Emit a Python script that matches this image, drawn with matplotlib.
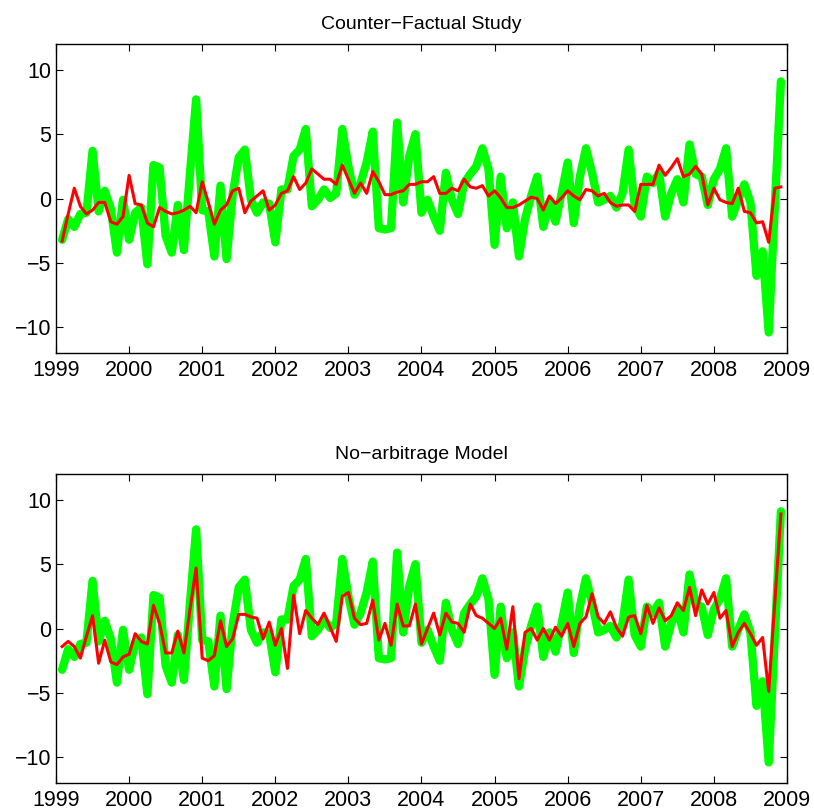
import numpy as np
import matplotlib
matplotlib.use("Agg")
from matplotlib import pyplot as plt

# monthly observations, Feb 1999 .. Dec 2008
months = np.arange(1, 120)
dates = 1999 + months / 12.0

actual = [
    -3.2, -1.6, -2.2, -1.2, -1.1, 3.7, -1.0, 0.6, -0.8, -4.2,
    -0.1, -3.2, -1.1, -0.7, -5.1, 2.6, 2.4, -2.9, -4.2, -0.5,
    -4.0, 2.0, 7.7, -0.9, -1.0, -4.5, 1.0, -4.7, 0.3, 3.2,
    3.8, -0.1, -1.1, -0.3, -0.4, -3.4, 0.7, 0.7, 3.3, 3.8,
    5.4, -0.6, -0.1, 0.7, 0.05, 0.4, 5.4, 2.5, 0.3, 1.2,
    2.8, 5.2, -2.3, -2.4, -2.3, 5.9, -0.3, 3.3, 5.0, -1.1,
    -0.1, -1.4, -2.5, 2.0, -0.1, -1.2, 1.2, 1.9, 2.5, 3.9,
    2.3, -3.6, 1.7, -2.3, -0.3, -4.5, -1.6, 0.2, 1.7, -2.2,
    -0.3, -1.8, 0.4, 2.8, -1.9, 1.7, 3.9, 2.0, -0.3, -0.1,
    0.2, -0.7, 0.4, 3.8, -0.5, -1.4, 1.7, 1.2, 2.0, -1.4,
    0.4, 1.5, -0.3, 4.2, 1.9, 1.7, -0.5, 1.5, 2.3, 3.9,
    -1.4, -0.1, 1.1, -0.3, -6.0, -4.1, -10.4, -0.6, 9.1,
]

counter_factual = [
    -3.3, -1.2, 0.8, -0.6, -1.2, -0.9, -0.3, -0.3, -1.8, -2.0,
    -1.4, 1.8, -0.4, -0.5, -1.9, -2.2, -0.7, -1.0, -1.2, -1.1,
    -0.9, -0.6, -1.1, 1.3, -0.3, -2.0, -0.9, -0.5, 0.6, 0.8,
    -1.1, -0.2, 0.2, 0.6, -0.9, -0.5, 0.4, 0.6, 1.7, 0.7,
    1.2, 2.3, 1.9, 1.5, 1.5, 1.1, 2.6, 1.5, 0.4, 1.2,
    0.4, 2.1, 1.3, 0.3, 0.3, 0.5, 0.6, 1.1, 1.1, 1.3,
    1.3, 1.7, 0.4, 0.4, 0.8, 0.6, 1.5, 0.9, 0.8, 1.0,
    0.2, 0.6, 0.05, -0.7, -0.7, -0.5, -0.2, 0.1, 0.0, -0.9,
    0.2, -0.4, 0.05, 0.6, 0.2, -0.1, 0.7, 0.6, 0.2, 0.4,
    -0.3, -0.6, -0.5, -0.5, -1.0, 1.1, 1.1, 1.1, 2.6, 1.8,
    2.4, 3.1, 1.7, 1.9, 2.5, 1.9, -0.5, 0.8, -0.1, -0.3,
    -0.4, 0.8, -1.0, -1.1, -1.9, -1.8, -3.4, 0.8, 0.9,
]

no_arbitrage = [
    -1.4, -1.0, -1.4, -2.3, -0.6, 1.0, -2.7, -0.9, -2.6, -2.8,
    -2.2, -2.0, -0.4, -1.0, -1.2, 1.8, 0.4, -1.9, -1.9, -0.2,
    -1.9, 1.5, 4.7, -2.3, -2.5, -2.1, 0.6, -1.4, -0.8, 1.1,
    1.1, 0.9, 0.8, -0.8, 0.5, -1.3, 0.0, -3.1, 2.6, -0.4,
    1.4, 0.8, 0.3, 1.2, 0.1, -1.0, 2.5, 2.8, 0.8, 0.3,
    0.4, 2.2, -0.9, 0.4, -1.3, 1.9, 0.2, 0.2, 1.9, -1.2,
    0.0, 1.2, -0.5, 1.2, 0.5, 0.4, -0.3, 1.9, 1.0, 0.8,
    0.4, 0.0, 0.8, -1.6, 1.7, -3.9, -0.3, 0.0, -0.9, 0.0,
    -0.9, 0.1, -0.6, 0.4, -1.4, 0.4, 0.9, 2.7, 0.9, 0.4,
    1.3, 0.1, -0.6, 0.9, 1.0, -0.4, 1.8, 0.4, 1.6, 0.6,
    1.0, 2.0, 1.4, 3.2, 1.0, 3.0, 1.9, 2.8, 0.8, 1.4,
    -1.4, -0.3, 0.4, -0.4, -1.3, -0.7, -4.9, 2.0, 8.9,
]

titles = ["Counter\u2212Factual Study", "No\u2212arbitrage Model"]
models = [counter_factual, no_arbitrage]
year_ticks = list(range(1999, 2010))
y_ticks = [-10, -5, 0, 5, 10]

plt.rcParams['font.family'] = ['Liberation Sans', 'DejaVu Sans']

fig = plt.figure(figsize=(8.14, 8.11), dpi=100)
boxes = [[0.0688, 0.5647, 0.8980, 0.3810],
         [0.0688, 0.0345, 0.8980, 0.3810]]

for box, title, model in zip(boxes, titles, models):
    ax = fig.add_axes(box)
    ax.plot(dates, actual, color='#00ff00', linewidth=6, solid_joinstyle='round',
            solid_capstyle='round')
    ax.plot(dates, model, color='#ff0000', linewidth=2.2)
    ax.set_xlim(1999, 2009)
    ax.set_ylim(-12, 12)
    ax.set_xticks(year_ticks)
    ax.set_yticks(y_ticks)
    ax.tick_params(direction='in', top=True, right=True, length=5,
                   labelsize=15.5, width=0.8)
    ax.tick_params(axis='x', pad=5)
    for s in ax.spines.values():
        s.set_linewidth(1.0)
    ax.set_title(title, fontsize=14, pad=11)

fig.savefig("out.png", dpi=100)
